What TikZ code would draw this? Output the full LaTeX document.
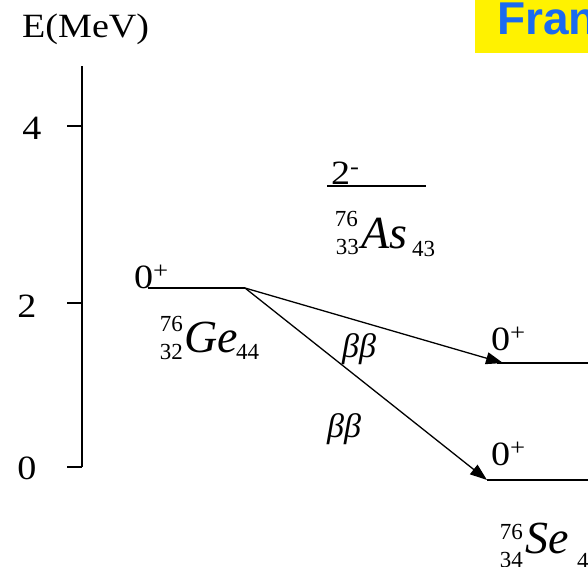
\documentclass[tikz,border=0pt]{standalone}
\usepackage{fontspec}
\setmainfont{Liberation Serif}
\newfontfamily\uprm[FakeStretch=1.12]{Liberation Serif}
\newfontfamily\titlefont{Liberation Sans}
\usetikzlibrary{arrows.meta}
\definecolor{titleblue}{RGB}{26,106,240}
\begin{document}
\begin{tikzpicture}[x=1pt,y=-1pt,
  lbl/.style={inner sep=0pt, font=\uprm\fontsize{34}{38}\selectfont},
  iso/.style={inner sep=0pt, font=\itshape\fontsize{46}{50}\selectfont},
  idx/.style={inner sep=0pt, font=\fontsize{23}{26}\selectfont},
  beta/.style={inner sep=0pt, font=\itshape\fontsize{34}{38}\selectfont},
  axisline/.style={line width=1.6pt},
  lvl/.style={line width=1.6pt},
  trans/.style={line width=1.3pt, -{Triangle[length=17pt,width=12pt]}}]
\useasboundingbox (0,0) rectangle (588,566);
% title box
\fill[yellow] (475,0) rectangle (588,53);
\node[inner sep=0pt, anchor=base west, font=\titlefont\bfseries\fontsize{46}{50}\selectfont, text=titleblue] (title) at (497,34) {Fran};
% axis
\node[lbl, anchor=base west] (eaxis) at (22,37) {E(MeV)};
\coordinate (atop) at (82,66);
\coordinate (abot) at (82,467);
\draw[axisline] (atop) -- (abot);
\coordinate (t4) at (67,126); \coordinate (t4r) at (82,126);
\coordinate (t2) at (67,303); \coordinate (t2r) at (82,303);
\coordinate (t0) at (67,467); \coordinate (t0r) at (82,467);
\draw[axisline] (t4) -- (t4r);
\draw[axisline] (t2) -- (t2r);
\draw[axisline] (t0) -- (t0r);
\node[lbl] (n4) at (32,128) {4};
\node[lbl] (n2) at (27,306) {2};
\node[lbl] (n0) at (27,468) {0};
% Ge level
\coordinate (geL) at (148,288);
\coordinate (geR) at (245,288);
\draw[lvl] (geL) -- (geR);
\node[lbl, anchor=base west] (gespin) at (134,288) {0\textsuperscript{+}};
\node[idx, anchor=base east] (geA) at (183,331) {76};
\node[idx, anchor=base east] (geZ) at (183,359) {32};
\node[iso, anchor=base west] (ge) at (184,352) {Ge};
\node[idx, anchor=base west] (geN) at (236,359) {44};
% As level
\coordinate (asL) at (327,186);
\coordinate (asR) at (426,186);
\draw[lvl] (asL) -- (asR);
\node[lbl, anchor=base west] (asspin) at (331,184) {2\textsuperscript{-}};
\node[idx, anchor=base east] (asA) at (358,226) {76};
\node[idx, anchor=base east] (asZ) at (359,254) {33};
\node[iso, anchor=base west] (as) at (361,248) {As};
\node[idx, anchor=base west] (asN) at (412,256) {43};
% Se levels
\coordinate (se1L) at (497,363);
\coordinate (se1R) at (588,363);
\coordinate (se1tip) at (503,363);
\draw[lvl] (se1L) -- (se1R);
\coordinate (se0L) at (487,480);
\coordinate (se0R) at (588,480);
\draw[lvl] (se0L) -- (se0R);
\node[lbl, anchor=base west] (se1spin) at (491,350) {0\textsuperscript{+}};
\node[lbl, anchor=base west] (se0spin) at (491,465) {0\textsuperscript{+}};
\node[idx, anchor=base east] (seA) at (523,539) {76};
\node[idx, anchor=base east] (seZ) at (523,567) {34};
\node[iso, anchor=base west] (se) at (525,553) {Se};
\node[idx, anchor=base west] (seN) at (577,568) {42};
% transitions
\draw[trans] (geR) -- (se1tip);
\draw[trans] (geR) -- (se0L);
\node[beta, anchor=base west] (b1) at (342,357) {ββ};
\node[beta, anchor=base west] (b2) at (327,437) {ββ};
\end{tikzpicture}
\end{document}
